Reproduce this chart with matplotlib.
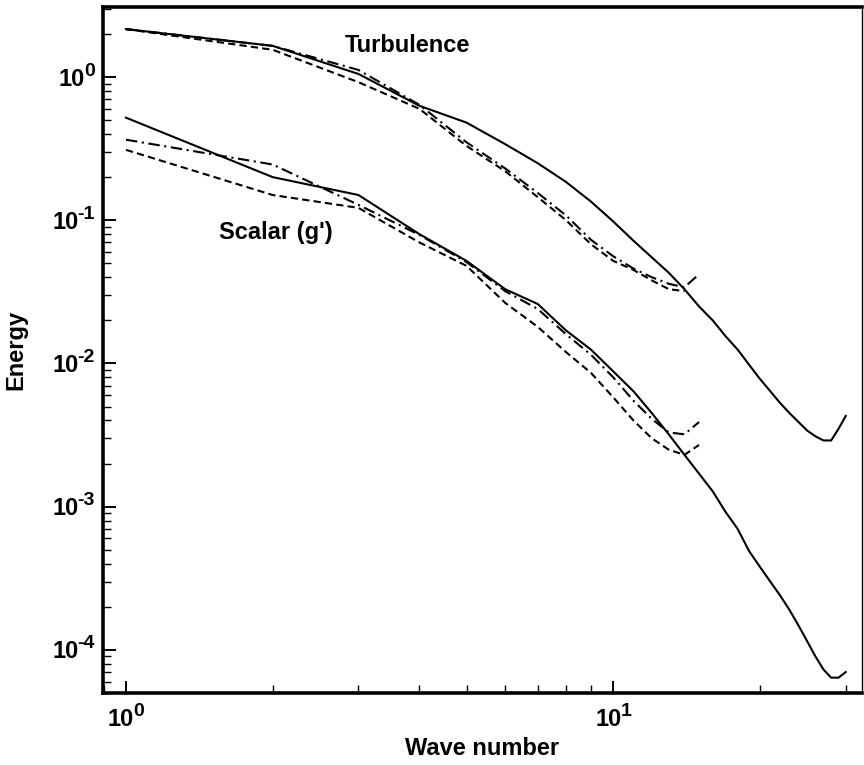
import numpy as np
import matplotlib
matplotlib.use("Agg")
import matplotlib.pyplot as plt
from matplotlib.ticker import LogLocator, NullFormatter
from matplotlib.transforms import offset_copy

plt.rcParams['font.family'] = ['Liberation Sans', 'DejaVu Sans']
plt.rcParams['font.weight'] = 'bold'

# wave numbers
k30 = np.arange(1, 31)
k15 = np.arange(1, 16)
k14 = np.arange(1, 15)

# turbulence spectra
turb_solid = [2.16, 1.65, 1.05, 0.63, 0.48, 0.34, 0.25, 0.185, 0.135, 0.098,
              0.072, 0.055, 0.043, 0.033, 0.025, 0.020, 0.0155, 0.0125, 0.0098, 0.0078,
              0.0064, 0.0053, 0.0045, 0.0039, 0.0034, 0.0031, 0.0029, 0.0029, 0.0035, 0.0043]
turb_dashdot = [2.16, 1.65, 1.12, 0.64, 0.35, 0.23, 0.155, 0.108, 0.073, 0.056,
                0.046, 0.040, 0.036, 0.034, 0.042]
turb_dashed = [2.16, 1.55, 0.92, 0.60, 0.33, 0.22, 0.145, 0.10, 0.068, 0.052,
               0.045, 0.038, 0.033, 0.032]

# scalar (g') spectra
scal_solid = [0.52, 0.20, 0.15, 0.08, 0.052, 0.033, 0.026, 0.017, 0.0125, 0.0088,
              0.0064, 0.0045, 0.0032, 0.0023, 0.0017, 0.00128, 0.00092, 0.0007, 0.00049, 0.00038,
              0.0003, 0.00024, 0.00019, 0.000148, 0.000115, 0.00009, 0.000073, 0.000064, 0.000064, 0.00007]
scal_dashdot = [0.365, 0.245, 0.128, 0.079, 0.051, 0.032, 0.024, 0.016, 0.0115, 0.008,
                0.0055, 0.0041, 0.0033, 0.0032, 0.0039]
scal_dashed = [0.31, 0.15, 0.122, 0.070, 0.048, 0.0265, 0.018, 0.012, 0.0086, 0.0058,
               0.0040, 0.0030, 0.0025, 0.0023, 0.0027]

x_decades = [1, 10]
y_decades = [1, 1e-1, 1e-2, 1e-3, 1e-4]

fig = plt.figure(figsize=(8.64, 7.65), dpi=100)
ax = fig.add_axes([0.1192, 0.0941, 0.8785, 0.8967])

lw = 1.5
dash = (0, (3.5, 2.0))
dashdot = (0, (5.5, 2.2, 1.0, 2.2))
ax.plot(k30, turb_solid, color='black', lw=lw)
ax.plot(k15, turb_dashdot, color='black', lw=lw, linestyle=dashdot)
ax.plot(k14, turb_dashed, color='black', lw=lw, linestyle=dash)
ax.plot(k30, scal_solid, color='black', lw=lw)
ax.plot(k15, scal_dashdot, color='black', lw=lw, linestyle=dashdot)
ax.plot(k15, scal_dashed, color='black', lw=lw, linestyle=dash)

ax.set_xscale('log')
ax.set_yscale('log')
ax.set_xlim(0.897, 32.4)
ax.set_ylim(5.0e-5, 3.08)

ax.text(3.78, 1.65, 'Turbulence', fontsize=17, ha='center', va='center')
ax.text(2.03, 0.0815, "Scalar (g')", fontsize=17, ha='center', va='center')

ax.set_xlabel('Wave number', fontsize=17, fontweight='bold')
ax.set_ylabel('Energy', fontsize=17, fontweight='bold')
ax.xaxis.set_label_coords(0.5, -0.064)
ax.yaxis.set_label_coords(-0.100, 0.5)

ax.xaxis.set_major_locator(LogLocator(base=10))
ax.yaxis.set_major_locator(LogLocator(base=10))
ax.xaxis.set_minor_locator(LogLocator(base=10, subs=np.arange(2, 10)))
ax.yaxis.set_minor_locator(LogLocator(base=10, subs=np.arange(2, 10)))
for a in (ax.xaxis, ax.yaxis):
    a.set_major_formatter(NullFormatter())
    a.set_minor_formatter(NullFormatter())

ax.tick_params(which='major', direction='in', length=9, width=1.4, top=False, right=False)
ax.tick_params(which='minor', direction='in', length=5.5, width=1.0, top=False, right=False)

for side in ['left', 'bottom', 'top']:
    ax.spines[side].set_linewidth(2.6)
ax.spines['right'].set_linewidth(1.0)

# tick labels as "10" with a large raised exponent, like the original print
renderer = fig.canvas.get_renderer()
ytr = ax.get_yaxis_transform()
for v in y_decades:
    e = str(int(round(np.log10(v))))
    t2 = ax.text(0, v, e, fontsize=14, ha='right', va='center',
                 transform=offset_copy(ytr, fig, x=-8, y=6, units='dots'))
    w2 = t2.get_window_extent(renderer).width
    ax.text(0, v, '10', fontsize=17, ha='right', va='center',
            transform=offset_copy(ytr, fig, x=-7 - w2, y=-2, units='dots'))

xtr = ax.get_xaxis_transform()
for v in x_decades:
    e = str(int(round(np.log10(v))))
    t1 = ax.text(0, 0, '10', fontsize=17)
    t2 = ax.text(0, 0, e, fontsize=14)
    w1 = t1.get_window_extent(renderer).width
    w2 = t2.get_window_extent(renderer).width
    t1.remove()
    t2.remove()
    total = w1 + w2 - 1
    ax.text(v, 0, '10', fontsize=17, ha='left', va='center',
            transform=offset_copy(xtr, fig, x=-total / 2, y=-26, units='dots'))
    ax.text(v, 0, e, fontsize=14, ha='left', va='center',
            transform=offset_copy(xtr, fig, x=-total / 2 + w1 - 1, y=-18, units='dots'))

fig.savefig('out.png', dpi=100)
